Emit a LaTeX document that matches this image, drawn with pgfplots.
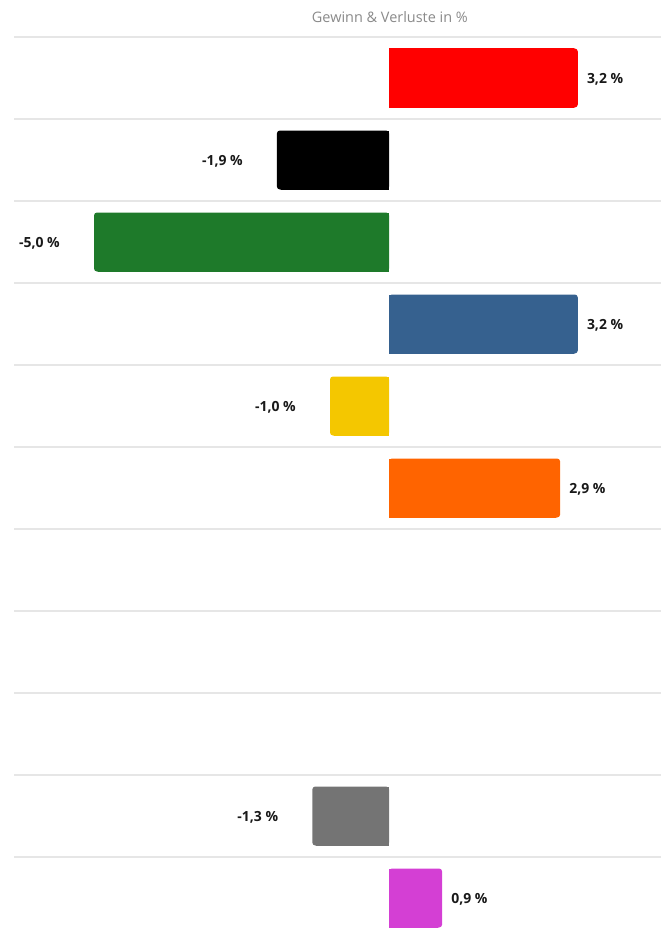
\documentclass[border=0pt]{standalone}
\usepackage{fontspec}
\setmainfont{Open Sans}
\usepackage{pgfplots}
\pgfplotsset{compat=1.18}
\definecolor{cgrid}{HTML}{E6E6E6}
\definecolor{ctitle}{HTML}{8A8A8A}
\definecolor{cred}{HTML}{FF0000}
\definecolor{cblack}{HTML}{000000}
\definecolor{cgreen}{HTML}{1E7A2A}
\definecolor{cblue}{HTML}{36618F}
\definecolor{cyellow}{HTML}{F4C700}
\definecolor{corange}{HTML}{FF6400}
\definecolor{cgray}{HTML}{747474}
\definecolor{cmag}{HTML}{D43FD4}
\begin{document}
\begin{tikzpicture}
\path[use as bounding box] (0,0) rectangle (661bp,934bp);
\begin{axis}[
  at={(14bp,0bp)}, anchor=south west,
  width=647bp, height=897bp, scale only axis,
  xmin=-6.356, xmax=4.61,
  ymin=-0.5, ymax=10.439, y dir=reverse,
  xbar, bar width=59bp, bar shift=0pt,
  axis line style={draw=none},
  xtick=\empty,
  ytick={-0.5,0.5,1.5,2.5,3.5,4.5,5.5,6.5,7.5,8.5,9.5},
  yticklabels={},
  major tick length=0pt,
  ymajorgrids, major grid style={cgrid, line width=1.3bp},
  title={Gewinn \& Verluste in \%},
  title style={at={(0.581,1)}, anchor=center, yshift=14bp, font=\fontsize{14.5}{16}\selectfont, text=ctitle},
  /pgf/number format/assume math mode=true,
  /pgf/number format/.cd, fixed, fixed zerofill, precision=1, use comma, /pgfplots/.cd,
  pos/.style={draw=none, fill=#1, rounded corners=3bp,
    nodes near coords={\pgfmathprintnumber{\pgfplotspointmeta}~\%},
    nodes near coords style={anchor=west, inner sep=0pt, xshift=9bp, yshift=-1bp, font=\bfseries\fontsize{14}{16}\selectfont, text=black!90}},
  neg/.style={draw=none, fill=#1, rounded corners=3bp,
    nodes near coords={\pgfmathprintnumber{\pgfplotspointmeta}~\%},
    nodes near coords style={anchor=east, inner sep=0pt, xshift=-34bp, yshift=-1bp, font=\bfseries\fontsize{14}{16}\selectfont, text=black!90}},
  cov/.style={draw=none, fill=#1, sharp corners},
]
% full bars (rounded)
\addplot[pos=cred] coordinates {(3.2,0)};
\addplot[neg=cblack] coordinates {(-1.9,1)};
\addplot[neg=cgreen] coordinates {(-5.0,2)};
\addplot[pos=cblue] coordinates {(3.2,3)};
\addplot[neg=cyellow] coordinates {(-1.0,4)};
\addplot[pos=corange] coordinates {(2.9,5)};
\addplot[neg=cgray] coordinates {(-1.3,9)};
\addplot[pos=cmag] coordinates {(0.9,10)};
% square inner ends (stop just before the rounded outer corners)
\addplot[cov=cred] coordinates {(3.13,0)};
\addplot[cov=cblack] coordinates {(-1.83,1)};
\addplot[cov=cgreen] coordinates {(-4.93,2)};
\addplot[cov=cblue] coordinates {(3.13,3)};
\addplot[cov=cyellow] coordinates {(-0.93,4)};
\addplot[cov=corange] coordinates {(2.83,5)};
\addplot[cov=cgray] coordinates {(-1.23,9)};
\addplot[cov=cmag] coordinates {(0.83,10)};
\end{axis}
\end{tikzpicture}
\end{document}
